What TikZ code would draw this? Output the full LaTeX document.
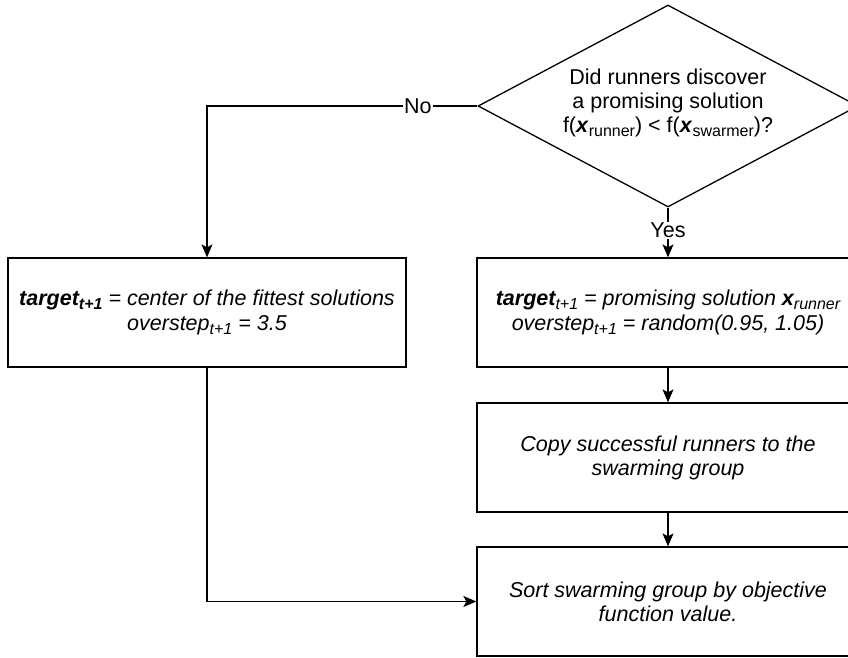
\documentclass[tikz,border=0pt]{standalone}
\usepackage{fontspec}
\setmainfont{Liberation Sans}
\usetikzlibrary{shapes.geometric,arrows.meta}
% subscript at three quarters of the body size
\newcommand{\sub}[1]{\raisebox{-0.2em}{\fontsize{16}{16}\selectfont #1}}
\begin{document}
\begin{tikzpicture}[x=1pt,y=-1pt,
  every node/.style={font=\fontsize{21.5}{24}\selectfont},
  box/.style={draw,line width=1.3pt,minimum width=382pt,minimum height=109pt,inner sep=0pt,align=center},
  flow/.style={line width=1.3pt,-{Stealth[length=13pt,width=11pt,inset=3pt]}},
  lbl/.style={fill=white,inner sep=1pt}]
\useasboundingbox (0,0) rectangle (848,657);
\clip (0,0) rectangle (848,657);
% decision
\node[diamond,draw,line width=1.3pt,minimum width=380pt,minimum height=202pt,inner sep=0pt] (dec) at (668,106) {};
\node[align=center] (dectext) at (668,103) {Did runners discover\\a promising solution\\f(\textbf{\textit{x}}\sub{runner}) < f(\textbf{\textit{x}}\sub{swarmer})?};
% process boxes
\node[box,minimum width=398pt] (lbox) at (207,312.5) {\textit{\textbf{target\sub{t+1}} = center of the fittest solutions}\\[1pt]\textit{overstep\sub{t+1} = 3.5}};
\node[box] (rbox1) at (668,312.5) {\textit{\textbf{target}\sub{t+1} = promising solution \textbf{x}\sub{runner}}\\[1pt]\textit{overstep\sub{t+1} = random(0.95, 1.05)}};
\node[box] (rbox2) at (668,457.5) {\textit{Copy successful runners to the}\\\textit{swarming group}};
\node[box] (rbox3) at (668,601.5) {\textit{Sort swarming group by objective}\\\textit{function value.}};
% connectors
\draw[flow] (dec.west) -| node[lbl,pos=0.11] {No} (lbox.north);
\draw[flow] (dec.south) -- node[lbl,pos=0.45] {Yes} (rbox1.north);
\draw[flow] (rbox1.south) -- (rbox2.north);
\draw[flow] (rbox2.south) -- (rbox3.north);
\draw[flow] (lbox.south) |- (rbox3.west);
\end{tikzpicture}
\end{document}
